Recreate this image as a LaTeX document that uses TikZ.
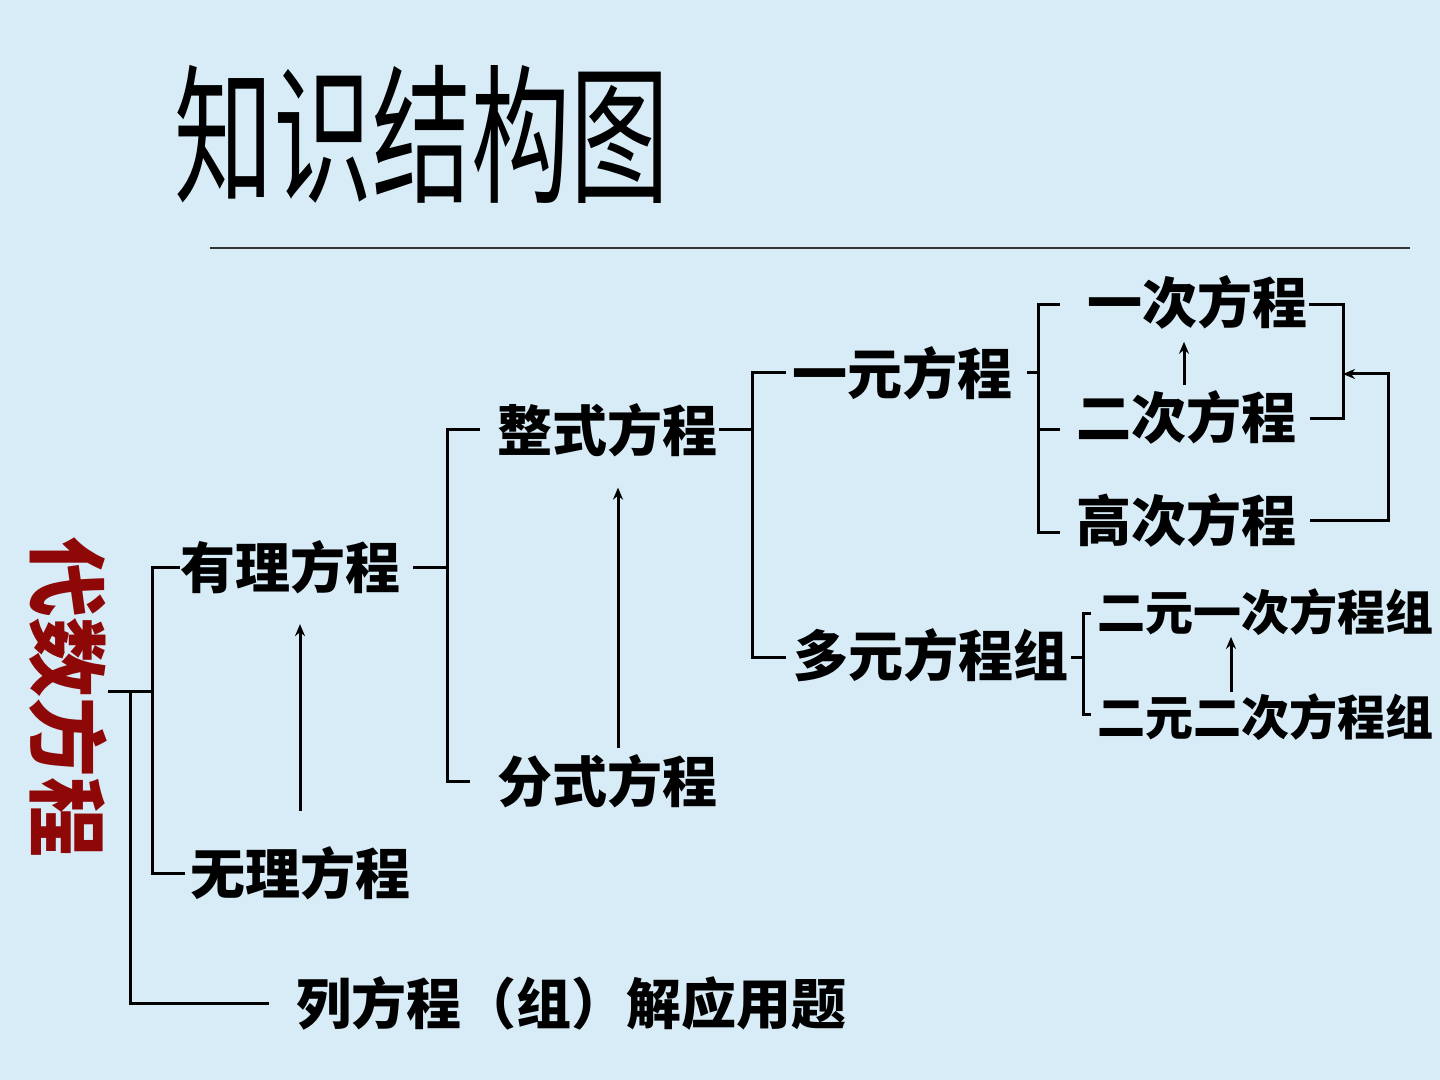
\documentclass[tikz,border=0pt]{standalone}
\usepackage{fontspec}
\newfontfamily\cjk{Noto Sans CJK SC}
\usetikzlibrary{arrows.meta,calc}
\definecolor{bgblue}{RGB}{216,236,247}
\definecolor{darkred}{RGB}{142,8,8}
\begin{document}
\begin{tikzpicture}[x=0.5pt,y=-0.5pt,
  lbl/.style={font=\cjk\bfseries\fontsize{27.5}{30}\selectfont, inner sep=0pt, text=black},
  sub/.style={font=\cjk\bfseries\fontsize{24}{26}\selectfont, inner sep=0pt, text=black},
  conn/.style={line width=1.5pt, draw=black},
  arr/.style={line width=1.5pt, draw=black, -{Stealth[length=6pt,width=5pt]}}]
\useasboundingbox (0,0) rectangle (1440,1080);
\fill[bgblue] (0,0) rectangle (1440,1080);
% title
\node[inner sep=0pt, font=\cjk\fontsize{75}{75}\selectfont, xscale=0.66] (title) at (422,135) {知识结构图};
\coordinate (ruleL) at (210,248);
\coordinate (ruleR) at (1410,248);
\draw[line width=0.8pt, black!80] (ruleL) -- (ruleR);
% root
\node[inner sep=0pt, font=\cjk\bfseries\fontsize{40}{40}\selectfont, text=darkred, rotate=-90] (root) at (68,697) {代数方程};
% labels
\node[lbl] (yl) at (290,567) {有理方程};
\node[lbl] (wl) at (300,873) {无理方程};
\node[lbl] (lf) at (571,1003) {列方程（组）解应用题};
\node[lbl] (zs) at (607,430) {整式方程};
\node[lbl] (fs) at (607,781) {分式方程};
\node[lbl] (ym) at (902,373) {一元方程};
\node[lbl] (dm) at (931,655) {多元方程组};
\node[lbl] (yc) at (1197,302) {一次方程};
\node[lbl] (ec) at (1186,417) {二次方程};
\node[lbl] (gc) at (1186,520) {高次方程};
\node[sub] (ey) at (1265,612) {二元一次方程组};
\node[sub] (ee) at (1265,717) {二元二次方程组};
% spine coordinates
\coordinate (rt) at (108,691);
\coordinate (s0) at (130,691);
\coordinate (s1) at (152,691);
\coordinate (s2) at (447,567);
\coordinate (s3) at (752,430);
\coordinate (s4) at (1038,373);
\coordinate (s5) at (1343,374);
\coordinate (s6) at (1388,374);
\coordinate (s7) at (1083,657);
% root brackets
\draw[conn] (rt) -- (s1);
\draw[conn] (yl.west) -- (yl.west -| s1) -- (wl.west -| s1) -- ([xshift=-2.5pt]wl.west);
\draw[conn] (s0) -- (s0 |- lf.west) -- ([xshift=-13.5pt]lf.west);
\draw[arr] ([yshift=17.5pt]wl.north) -- ([yshift=-15pt]wl.north |- yl.south);
% rational
\draw[conn] ([xshift=6.5pt]yl.east) -- (s2);
\draw[conn] ([xshift=-8.5pt]zs.west) -- (zs.west -| s2) -- (fs.west -| s2) -- ([xshift=-13.5pt]fs.west);
\draw[arr] ([xshift=5.5pt,yshift=2.75pt]fs.north) -- ([xshift=5.5pt,yshift=-15.25pt]zs.south);
% integral
\draw[conn] ([xshift=1pt]zs.east) -- (s3);
\draw[conn] ([xshift=-3pt]ym.west) -- (ym.west -| s3) -- ([yshift=-1pt]dm.west -| s3) -- ([xshift=-3.5pt,yshift=-1pt]dm.west);
% one-variable
\draw[conn] ([xshift=7.5pt]ym.east) -- (s4);
\draw[conn] ([xshift=-13.5pt,yshift=-1.5pt]yc.west) -- ([yshift=-1.5pt]yc.west -| s4) -- ([yshift=-6pt]gc.west -| s4) -- ([xshift=-8pt,yshift=-6pt]gc.west);
\draw[conn] ([yshift=-6.5pt]ec.west -| s4) -- ([xshift=-8pt,yshift=-6.5pt]ec.west);
\draw[conn] ([xshift=1pt,yshift=-1.5pt]yc.east) -- ([yshift=-1.5pt]yc.east -| s5) -- ([yshift=-1pt]ec.east -| s5) -- ([xshift=7pt,yshift=-1pt]ec.east);
\draw[arr] ([xshift=7pt]gc.east) -- (gc.east -| s6) -- (s6) -- (s5);
\draw[arr] ([xshift=-1pt,yshift=2.25pt]ec.north) -- ([xshift=-1pt,yshift=-6.25pt]ec.north |- yc.south);
% multi-variable
\draw[conn] ([xshift=1pt,yshift=-1pt]dm.east) -- (s7);
\draw[conn] ([xshift=-3pt,yshift=-0.5pt]ey.west) -- ([yshift=-0.5pt]ey.west -| s7) -- ([yshift=1.5pt]ee.west -| s7) -- ([xshift=-3pt,yshift=1.5pt]ee.west);
\draw[arr] ([xshift=-17pt,yshift=0.5pt]ee.north) -- ([xshift=-17pt,yshift=-0.5pt]ee.north |- ey.south);
\end{tikzpicture}
\end{document}
